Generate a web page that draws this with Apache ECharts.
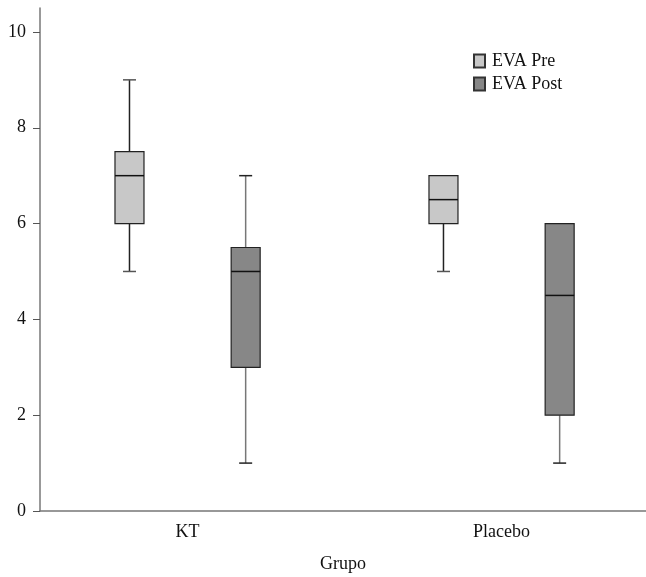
<!DOCTYPE html>
<html>
<head>
<meta charset="utf-8">
<script src="https://cdn.jsdelivr.net/npm/echarts@6/dist/echarts.min.js"></script>
<style>
  html, body { margin: 0; padding: 0; background: #fff; }
  #chart { width: 646px; height: 577px; }
</style>
</head>
<body>
<div id="chart"></div>
<script>
// groups on the x axis
const groups = ['KT', 'Placebo']
// [min, Q1, median, Q3, max] per group
const preStats = [
  [5, 6, 7, 7.5, 9],
  [5, 6, 6.5, 7, 7]
]
const postStats = [
  [1, 3, 5, 5.5, 7],
  [1, 2, 4.5, 6, 6]
]
const yTicks = [0, 2, 4, 6, 8, 10]

const FONT = '"Liberation Serif", "DejaVu Serif", serif'
const BOX_W = 29
const CAP_W = 13

const makeRender = (offset, whiskerColor, capColor) => (params, api) => {
  const x = api.value(0)
  const shift = api.size([1, 0])[0] * offset
  const pt = v => {
    const p = api.coord([x, v])
    return [p[0] + shift, p[1]]
  }
  const [lo, q1, med, q3, hi] = [1, 2, 3, 4, 5].map(i => pt(api.value(i)))
  const cx = lo[0]
  const style = api.style()
  const line = (x1, y1, x2, y2, stroke, w) => ({
    type: 'line',
    shape: { x1, y1, x2, y2 },
    style: { stroke, lineWidth: w }
  })
  const children = []
  if (hi[1] < q3[1] - 0.5) {
    children.push(line(cx, hi[1], cx, q3[1], whiskerColor, 1.5))
    children.push(line(cx - CAP_W / 2, hi[1], cx + CAP_W / 2, hi[1], capColor, 1.5))
  }
  if (lo[1] > q1[1] + 0.5) {
    children.push(line(cx, q1[1], cx, lo[1], whiskerColor, 1.5))
    children.push(line(cx - CAP_W / 2, lo[1], cx + CAP_W / 2, lo[1], capColor, 1.5))
  }
  children.push({
    type: 'rect',
    shape: { x: cx - BOX_W / 2, y: q3[1], width: BOX_W, height: q1[1] - q3[1] },
    style: { fill: style.fill, stroke: '#222', lineWidth: 1.2 }
  })
  children.push(line(cx - BOX_W / 2, med[1], cx + BOX_W / 2, med[1], '#111', 1.5))
  return { type: 'group', children }
}

const chart = echarts.init(document.getElementById('chart'))

chart.setOption({
  backgroundColor: '#fff',
  animation: false,
  grid: { left: 40, right: 0, top: 8, bottom: 66, outerBoundsMode: 'none' },
  legend: {
    orient: 'vertical',
    left: 468,
    top: 47,
    icon: 'rect',
    itemWidth: 11,
    itemHeight: 13,
    itemGap: 5,
    textStyle: { fontFamily: FONT, fontSize: 18, color: '#111', lineHeight: 18, padding: [0, 0, 0, 2] },
    data: ['EVA Pre', 'EVA Post']
  },
  xAxis: {
    type: 'value',
    min: -0.47,
    max: 1.46,
    name: 'Grupo',
    nameLocation: 'middle',
    nameGap: 44,
    nameTextStyle: { fontFamily: FONT, fontSize: 18, color: '#111' },
    axisLine: { show: true, onZero: false, lineStyle: { color: '#777', width: 1.5 } },
    axisTick: { show: false },
    splitLine: { show: false },
    axisLabel: {
      customValues: [0, 1],
      formatter: v => groups[Math.round(v)],
      fontFamily: FONT,
      fontSize: 18,
      color: '#111',
      margin: 12
    }
  },
  yAxis: {
    type: 'value',
    min: 0,
    max: 10.5,
    axisLine: { show: true, onZero: false, lineStyle: { color: '#777', width: 1.5 } },
    axisTick: { show: true, customValues: yTicks, length: 7, lineStyle: { color: '#555' } },
    splitLine: { show: false },
    axisLabel: {
      customValues: yTicks,
      fontFamily: FONT,
      fontSize: 18,
      color: '#111',
      margin: 14
    }
  },
  series: [
    {
      name: 'EVA Pre',
      type: 'custom',
      renderItem: makeRender(-0.185, '#222', '#555'),
      itemStyle: { color: '#c8c8c8', borderColor: '#333', borderWidth: 1 },
      encode: { x: 0, y: [1, 2, 3, 4, 5] },
      data: groups.map((g, i) => [i, ...preStats[i]])
    },
    {
      name: 'EVA Post',
      type: 'custom',
      renderItem: makeRender(0.185, '#777', '#222'),
      itemStyle: { color: '#878787', borderColor: '#333', borderWidth: 1 },
      encode: { x: 0, y: [1, 2, 3, 4, 5] },
      data: groups.map((g, i) => [i, ...postStats[i]])
    }
  ]
})
</script>
</body>
</html>
